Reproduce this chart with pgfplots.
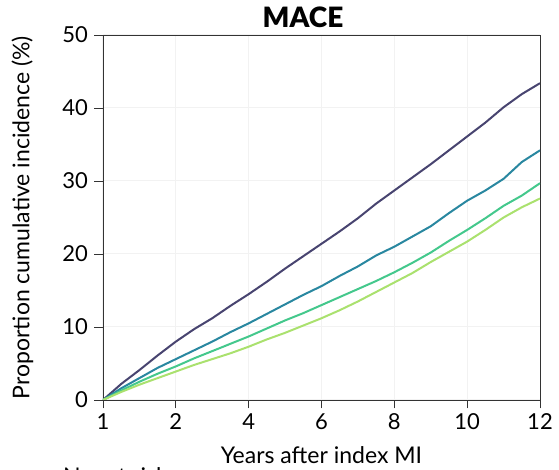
\documentclass[border=0pt]{standalone}
\usepackage{pgfplots}
\pgfplotsset{compat=1.18}
\usepackage{fontspec}
\setmainfont{Lato}
\newfontfamily\titlefont{Lato Black}

\definecolor{cPurple}{RGB}{72,68,112}
\definecolor{cBlue}{RGB}{41,135,160}
\definecolor{cTeal}{RGB}{68,200,140}
\definecolor{cLime}{RGB}{170,225,110}

\begin{document}
\begin{tikzpicture}
\begin{axis}[
    at={(0,0)}, anchor=south west,
    scale only axis,
    width=437pt, height=365pt,
    xmin=0, xmax=12, ymin=0, ymax=50,
    xtick={0,2,4,6,8,10,12},
    xticklabels={1,2,4,6,8,10,12},
    ytick={0,10,...,50},
    tick align=outside, tick pos=left,
    major tick length=8.5pt,
    grid=major,
    grid style={black!5, line width=1pt},
    axis line style={black!80, line width=0.9pt},
    tick style={black!80, line width=0.9pt},
    ticklabel style={font=\fontsize{22}{22}\selectfont},
    xticklabel style={yshift=-2pt},
    yticklabel style={xshift=-3pt},
    /pgf/number format/assume math mode=true,
    xlabel={Years after index MI},
    ylabel={Proportion cumulative incidence (\%)},
    label style={font=\fontsize{23}{23}\selectfont},
    xlabel style={at={(axis description cs:0.5,-0.1726)}, anchor=base},
    ylabel style={at={(axis description cs:-0.21,0.5)}, anchor=north, inner sep=0pt},
    every axis plot/.append style={line width=2pt, no marks},
]
\addplot[cPurple] coordinates {
 (0,0) (0.5,2.2) (1,4.1) (1.5,6.1) (2,8.0) (2.5,9.7) (3,11.2) (3.5,12.9)
 (4,14.5) (4.5,16.2) (5,18.0) (5.5,19.7) (6,21.4) (6.5,23.1) (7,24.9)
 (7.5,26.9) (8,28.7) (8.5,30.5) (9,32.3) (9.5,34.2) (10,36.1) (10.5,38.0)
 (11,40.1) (11.5,41.9) (12,43.4)
};
\addplot[cBlue] coordinates {
 (0,0) (0.5,1.6) (1,3.0) (1.5,4.4) (2,5.6) (2.5,6.8) (3,8.0) (3.5,9.3)
 (4,10.5) (4.5,11.8) (5,13.1) (5.5,14.4) (6,15.6) (6.5,17.0) (7,18.3)
 (7.5,19.8) (8,21.0) (8.5,22.4) (9,23.8) (9.5,25.6) (10,27.3) (10.5,28.7)
 (11,30.3) (11.5,32.6) (12,34.2)
};
\addplot[cTeal] coordinates {
 (0,0) (0.5,1.3) (1,2.5) (1.5,3.6) (2,4.6) (2.5,5.7) (3,6.7) (3.5,7.7)
 (4,8.7) (4.5,9.8) (5,10.9) (5.5,11.9) (6,13.0) (6.5,14.1) (7,15.2)
 (7.5,16.3) (8,17.5) (8.5,18.8) (9,20.2) (9.5,21.8) (10,23.3) (10.5,24.9)
 (11,26.6) (11.5,28.0) (12,29.7)
};
\addplot[cLime] coordinates {
 (0,0) (0.5,1.1) (1,2.1) (1.5,3.0) (2,3.9) (2.5,4.8) (3,5.6) (3.5,6.4)
 (4,7.3) (4.5,8.3) (5,9.2) (5.5,10.2) (6,11.2) (6.5,12.3) (7,13.5)
 (7.5,14.8) (8,16.1) (8.5,17.4) (9,18.9) (9.5,20.3) (10,21.7) (10.5,23.3)
 (11,25.0) (11.5,26.4) (12,27.6)
};
\end{axis}
\node[anchor=base, font=\fontsize{28}{28}\titlefont\selectfont] at (200pt,372pt) {MACE};
\node[anchor=base west, font=\fontsize{23}{23}\selectfont, inner sep=0pt] at (-40pt,-85pt) {No. at risk};
\pgfresetboundingbox
\path[use as bounding box] (-103pt,-70pt) rectangle (456pt,400pt);
\end{tikzpicture}
\end{document}
